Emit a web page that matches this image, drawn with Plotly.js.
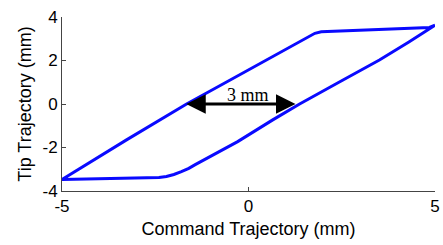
<!DOCTYPE html>
<html>
<head>
<meta charset="utf-8">
<script src="https://cdn.plot.ly/plotly-3.0.1.min.js"></script>
<style>html,body{margin:0;padding:0;background:#fff;}#chart{width:443px;height:245px;}</style>
</head>
<body>
<div id="chart"></div>
<script>
// Hysteresis loop: command (x) vs tip (y), in mm
const loopX = [-5, -4.2, -3.4, -2.64, -2.4, -2.2, -2.0, -1.8, -1.6, -1.44, -0.9, -0.29, 0.65, 1.37, 2.4, 3.51, 4.3, 5,
               4.85, 4.0, 2.89, 2.2, 1.95, 1.78, 1.64, 0.48, -0.6, -1.66, -3.27, -5];
const loopY = [-3.47, -3.45, -3.43, -3.41, -3.38, -3.33, -3.24, -3.11, -2.96, -2.80, -2.28, -1.73, -0.73, 0, 0.98, 2.02, 2.85, 3.62,
               3.52, 3.46, 3.39, 3.35, 3.32, 3.25, 3.12, 2.02, 1.0, 0, -1.65, -3.47];
const xTicks = [-5, 0, 5];
const yTicks = [-4, -2, 0, 2, 4];
const arrowFrom = [-1.71, 0];
const arrowTo = [1.26, 0];
const arrowLabel = '3 mm';
const labelPos = [-0.02, 0.43];

const axisCommon = {
  showgrid: false, zeroline: false, showline: true, linecolor: '#444', linewidth: 1,
  ticks: 'inside', ticklen: 4, tickcolor: '#444', tickwidth: 1,
  tickfont: {family: 'Liberation Sans, Arial, sans-serif', size: 17, color: '#000'},
  mirror: false
};

const layout = {
  width: 443, height: 245,
  margin: {l: 62, r: 8, t: 17, b: 54},
  paper_bgcolor: '#fff', plot_bgcolor: '#fff',
  showlegend: false,
  xaxis: Object.assign({}, axisCommon, {
    range: [-5, 5], tickvals: xTicks, ticktext: xTicks.map(String),
    title: {text: 'Command Trajectory (mm)', font: {family: 'Liberation Sans, Arial, sans-serif', size: 18, color: '#000'}, standoff: 6}
  }),
  yaxis: Object.assign({}, axisCommon, {
    range: [-4, 4], tickvals: yTicks, ticktext: yTicks.map(String),
    title: {text: 'Tip Trajectory (mm)', font: {family: 'Liberation Sans, Arial, sans-serif', size: 18, color: '#000'}, standoff: 6}
  }),
  annotations: [
    {x: arrowTo[0], y: arrowTo[1], ax: arrowFrom[0], ay: arrowFrom[1], xref: 'x', yref: 'y', axref: 'x', ayref: 'y',
     text: '', showarrow: true, arrowside: 'end+start', arrowhead: 2, startarrowhead: 2,
     arrowsize: 1.3, startarrowsize: 1.3, arrowwidth: 3, arrowcolor: '#000', standoff: 0, startstandoff: 0},
    {x: labelPos[0], y: labelPos[1], xref: 'x', yref: 'y', text: arrowLabel, showarrow: false,
     font: {family: 'Liberation Serif, Times New Roman, serif', size: 18, color: '#000'}}
  ]
};

Plotly.newPlot('chart', [{
  x: loopX, y: loopY, type: 'scatter', mode: 'lines',
  line: {color: '#0a0aff', width: 3}, hoverinfo: 'skip'
}], layout, {staticPlot: true, displayModeBar: false});
</script>
</body>
</html>
